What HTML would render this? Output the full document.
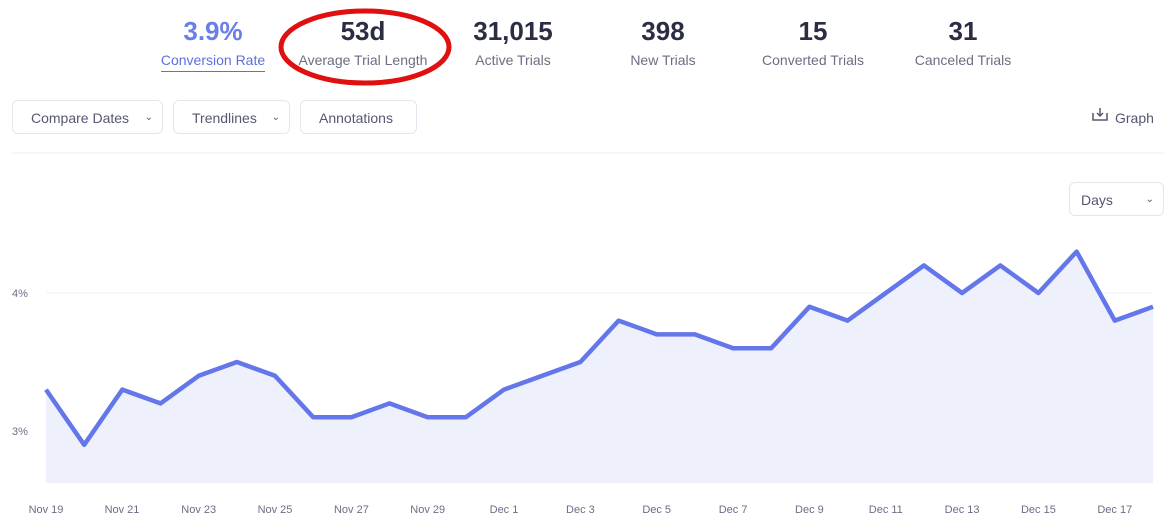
<!DOCTYPE html>
<html><head><meta charset="utf-8"><style>
body{margin:0;width:1176px;height:532px;background:#fff;font-family:"Liberation Sans",sans-serif;position:relative;overflow:hidden}
.m{position:absolute;text-align:center;width:160px;top:16px}
.m .v{font-size:26px;font-weight:bold;color:#2b2d42;line-height:30px}
.m .l{font-size:14px;color:#6b6e85;margin-top:6px}
.btn{position:absolute;top:100px;height:34px;border:1px solid #e4e6ee;border-radius:6px;font-size:14px;color:#55586e;line-height:34px;box-sizing:border-box;padding-left:18px}
.btn .c{position:absolute;right:9px;top:0;font-size:10px}
</style></head><body>
<div class="m" style="left:133px"><div class="v" style="color:#6a7ee8">3.9%</div><div class="l" style="color:#5e70d8;display:inline-block;border-bottom:1px solid #5e70d8;padding-bottom:3px">Conversion Rate</div></div>
<div class="m" style="left:283px"><div class="v">53d</div><div class="l">Average Trial Length</div></div>
<div class="m" style="left:433px"><div class="v">31,015</div><div class="l">Active Trials</div></div>
<div class="m" style="left:583px"><div class="v">398</div><div class="l">New Trials</div></div>
<div class="m" style="left:733px"><div class="v">15</div><div class="l">Converted Trials</div></div>
<div class="m" style="left:883px"><div class="v">31</div><div class="l">Canceled Trials</div></div>
<svg style="position:absolute;left:0;top:0" width="1176" height="532">
<ellipse cx="365" cy="47" rx="84" ry="36" fill="none" stroke="#e01010" stroke-width="5"/>
<line x1="12" y1="153" x2="1164" y2="153" stroke="#eceef3"/>
<line x1="46" y1="293" x2="1153" y2="293" stroke="#eef0f5"/>
<line x1="46" y1="431" x2="1153" y2="431" stroke="#eef0f5"/>
<polygon fill="#eef0fc" points="46,483 46,389.6 84.2,444.8 122.3,389.6 160.5,403.4 198.7,375.8 236.9,362 275,375.8 313.2,417.2 351.4,417.2 389.5,403.4 427.7,417.2 465.9,417.2 504,389.6 542.2,375.8 580.4,362 618.6,320.6 656.7,334.4 694.9,334.4 733.1,348.2 771.2,348.2 809.4,306.8 847.6,320.6 885.8,293 923.9,265.4 962.1,293 1000.3,265.4 1038.4,293 1076.6,251.6 1114.8,320.6 1153,306.8 1153,483"/>
<polyline fill="none" stroke="#6477ea" stroke-width="4.5" stroke-linejoin="round" points="46,389.6 84.2,444.8 122.3,389.6 160.5,403.4 198.7,375.8 236.9,362 275,375.8 313.2,417.2 351.4,417.2 389.5,403.4 427.7,417.2 465.9,417.2 504,389.6 542.2,375.8 580.4,362 618.6,320.6 656.7,334.4 694.9,334.4 733.1,348.2 771.2,348.2 809.4,306.8 847.6,320.6 885.8,293 923.9,265.4 962.1,293 1000.3,265.4 1038.4,293 1076.6,251.6 1114.8,320.6 1153,306.8"/>
<g font-size="11" fill="#6b6e85" font-family="Liberation Sans,sans-serif">
<text x="12" y="297">4%</text><text x="12" y="435">3%</text>
<g text-anchor="middle">
<text x="46" y="513">Nov 19</text><text x="122" y="513">Nov 21</text><text x="198.7" y="513">Nov 23</text><text x="275" y="513">Nov 25</text><text x="351.4" y="513">Nov 27</text><text x="427.7" y="513">Nov 29</text><text x="504" y="513">Dec 1</text><text x="580.4" y="513">Dec 3</text><text x="656.7" y="513">Dec 5</text><text x="733.1" y="513">Dec 7</text><text x="809.4" y="513">Dec 9</text><text x="885.8" y="513">Dec 11</text><text x="962.1" y="513">Dec 13</text><text x="1038.4" y="513">Dec 15</text><text x="1114.8" y="513">Dec 17</text>
</g></g>
<g stroke="#55586e" stroke-width="1.5" fill="none"><path d="M1093 113v7h14v-7"/><path d="M1100 108v8M1097 113l3 3 3-3"/></g>
<text x="1115" y="123" font-size="14" fill="#55586e" font-family="Liberation Sans,sans-serif">Graph</text>
</svg>
<div class="btn" style="left:12px;width:151px">Compare Dates<span class="c">⌄</span></div>
<div class="btn" style="left:173px;width:117px">Trendlines<span class="c">⌄</span></div>
<div class="btn" style="left:300px;width:117px">Annotations</div>
<div class="btn" style="left:1069px;top:182px;width:95px;padding-left:11px">Days<span class="c">⌄</span></div>
</body></html>
